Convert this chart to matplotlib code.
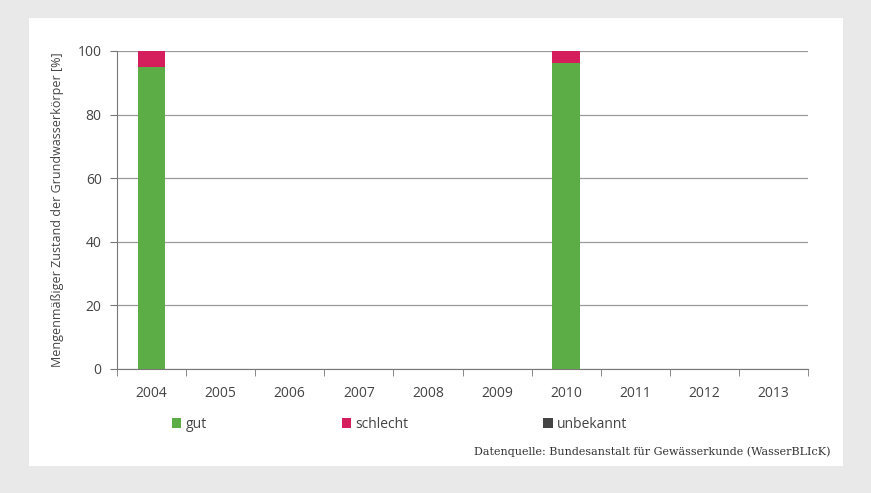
import numpy as np
import matplotlib.pyplot as plt
from matplotlib.patches import Rectangle

years = ["2004", "2005", "2006", "2007", "2008", "2009", "2010", "2011", "2012", "2013"]
gut = [95.0, 0, 0, 0, 0, 0, 96.2, 0, 0, 0]
schlecht = [5.0, 0, 0, 0, 0, 0, 3.8, 0, 0, 0]
unbekannt = [0, 0, 0, 0, 0, 0, 0, 0, 0, 0]

c_gut = "#5cad46"
c_schlecht = "#d41f5c"
c_unb = "#444444"
txt = "#444444"

plt.rcParams['font.family'] = ['Open Sans', 'DejaVu Sans']

fig = plt.figure(figsize=(8.71, 4.93), dpi=100)
fig.patch.set_facecolor("#e9e9e9")
fig.patches.append(Rectangle((29 / 871, 1 - 466 / 493), (843 - 29) / 871, (466 - 18) / 493,
                             transform=fig.transFigure, facecolor="white", edgecolor="none", zorder=-10))

ax = fig.add_axes([117 / 871, 1 - 369 / 493, (808 - 117) / 871, (369 - 51) / 493])
ax.set_facecolor("none")

x = np.arange(len(years))
w = 0.4
g = np.array(gut)
s = np.array(schlecht)
u = np.array(unbekannt)
ax.bar(x, g, w, color=c_gut, label="gut", zorder=3)
ax.bar(x, s, w, bottom=g, color=c_schlecht, label="schlecht", zorder=3)
ax.bar(x, u, w, bottom=g + s, color=c_unb, label="unbekannt", zorder=3)

ax.set_xlim(-0.5, len(years) - 0.5)
ax.set_ylim(0, 100)
ax.set_yticks([0, 20, 40, 60, 80, 100])
ax.set_xticks(x)
ax.set_xticklabels(years)
ax.set_xticks(np.arange(-0.5, len(years)), minor=True)
ax.tick_params(axis="x", which="major", length=0, pad=12, labelsize=10, labelcolor=txt)
ax.tick_params(axis="x", which="minor", length=5, color="#777777", direction="out")
ax.tick_params(axis="y", length=5, color="#777777", labelsize=10, labelcolor=txt, pad=6)

ax.yaxis.grid(True, color="#9a9a9a", linewidth=0.9, zorder=0)
for sp in ["top", "right"]:
    ax.spines[sp].set_visible(False)
ax.spines["left"].set_color("#777777")
ax.spines["bottom"].set_color("#777777")
ax.axhline(100, color="#888888", linewidth=1.4, zorder=1)

ax.set_ylabel("Mengenmäßiger Zustand der Grundwasserkörper [%]", fontsize=9, color=txt, labelpad=10)

leg = ax.legend(loc="center left", bbox_to_anchor=(0.061, -0.175), ncol=3, frameon=False,
                handlelength=0.7, handleheight=0.7, handletextpad=0.3, columnspacing=9.7,
                fontsize=10, labelcolor=txt)

fig.text(830 / 871, 1 - 452 / 493, "Datenquelle: Bundesanstalt für Gewässerkunde (WasserBLIcK)",
         ha="right", va="center", fontsize=8, family="DejaVu Serif", color="#333333")

fig.savefig("out.png", dpi=100, facecolor=fig.get_facecolor())
